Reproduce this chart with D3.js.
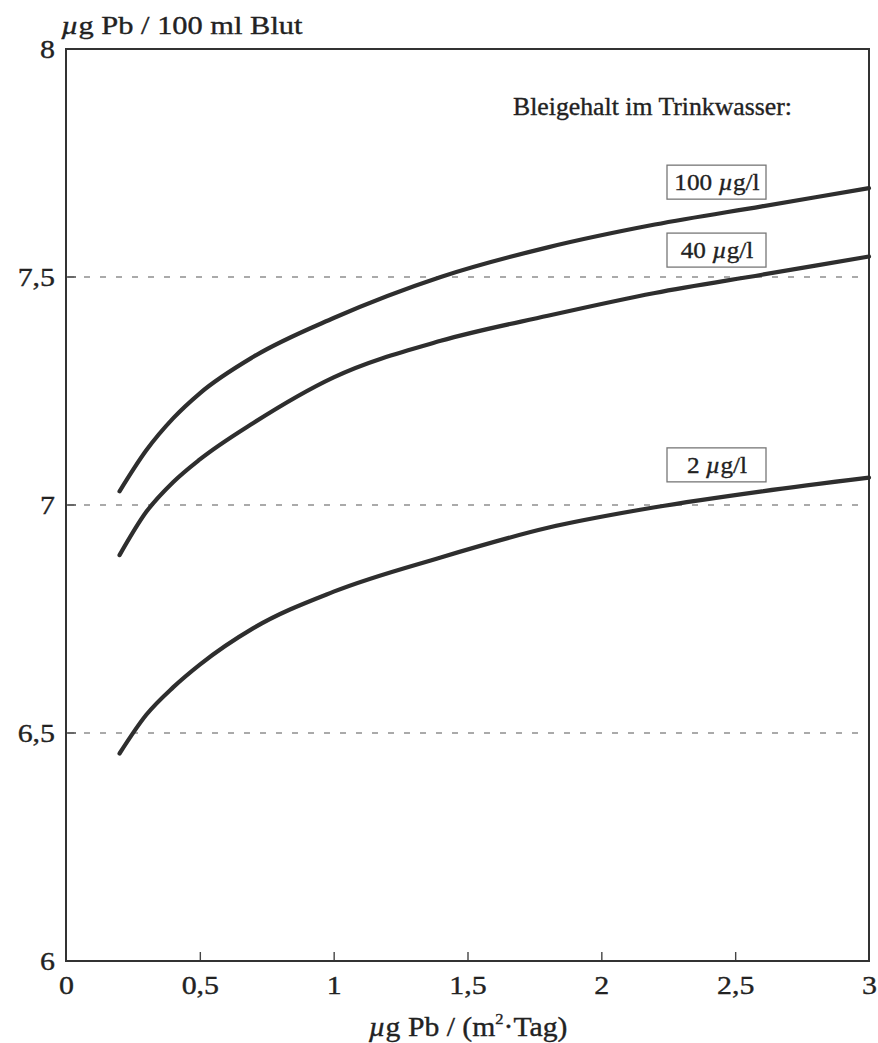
<!DOCTYPE html>
<html>
<head>
<meta charset="utf-8">
<script src="https://cdn.jsdelivr.net/npm/d3@7"></script>
<style>
  html, body { margin: 0; padding: 0; background: #fff; }
  svg text { font-family: "Liberation Serif", "Times New Roman", serif; fill: #222; stroke: #222; stroke-width: 0.35px; }
</style>
</head>
<body>
<svg id="chart" width="878" height="1043"></svg>
<script>
// Daily lead deposition (µg Pb per m² and day)
const deposition = [0.2, 0.3, 0.4, 0.5, 0.7, 1.0, 1.4, 1.8, 2.2, 2.6, 3.0];

// Blood lead (µg Pb / 100 ml) for three drinking-water lead levels
const blood100 = [7.03, 7.12, 7.19, 7.245, 7.325, 7.41, 7.50, 7.565, 7.615, 7.655, 7.695];
const blood40  = [6.89, 6.985, 7.05, 7.10, 7.18, 7.28, 7.36, 7.415, 7.465, 7.505, 7.545];
const blood2   = [6.455, 6.54, 6.60, 6.65, 6.73, 6.81, 6.885, 6.95, 6.995, 7.03, 7.06];

const seriesLabels = ["100 µg/l", "40 µg/l", "2 µg/l"];
const xTicks = [0, 0.5, 1, 1.5, 2, 2.5, 3];
const yTicks = [6, 6.5, 7, 7.5, 8];
const gridValues = [6.5, 7, 7.5];

const width = 878, height = 1043;
const margin = { top: 49, right: 9, bottom: 82, left: 66 };
const innerW = width - margin.left - margin.right;
const innerH = height - margin.top - margin.bottom;

const fmt = v => String(v).replace(".", ",");

// the typeface used here runs a little wider than Liberation Serif
function widen(sel, k) {
  sel.each(function() {
    const len = this.getComputedTextLength();
    d3.select(this).attr("textLength", len * k).attr("lengthAdjust", "spacingAndGlyphs");
  });
}

const svg = d3.select("#chart");
const g = svg.append("g").attr("transform", `translate(${margin.left},${margin.top})`);

const x = d3.scaleLinear().domain([0, 3]).range([0, innerW]);
const y = d3.scaleLinear().domain([6, 8]).range([innerH, 0]);

// dashed reference lines
g.selectAll(".grid").data(gridValues).enter().append("line")
  .attr("x1", 2).attr("x2", innerW - 6)
  .attr("y1", d => y(d)).attr("y2", d => y(d))
  .attr("stroke", "#8f8f8f").attr("stroke-width", 1.3)
  .attr("stroke-dasharray", "6,10");

// short dark marks at the left end of each reference line
g.selectAll(".ymark").data(gridValues).enter().append("line")
  .attr("x1", 0).attr("x2", 10)
  .attr("y1", d => y(d)).attr("y2", d => y(d))
  .attr("stroke", "#555").attr("stroke-width", 1.6);

// x axis with inward ticks
const xAxis = d3.axisBottom(x).tickValues(xTicks).tickSize(-9).tickPadding(13).tickFormat(fmt);
const xg = g.append("g").attr("transform", `translate(0,${innerH})`).call(xAxis);
xg.select(".domain").remove();
xg.selectAll(".tick line").attr("stroke", "#444").attr("stroke-width", 1.4)
  .filter(d => d === 0 || d === 3).remove();
xg.selectAll(".tick text").attr("font-size", 26).attr("fill", "#222")
  .attr("font-family", "Liberation Serif, serif").attr("dy", "0.75em");
widen(xg.selectAll(".tick text"), 1.15);

// y axis labels
const yAxis = d3.axisLeft(y).tickValues(yTicks).tickSize(0).tickPadding(11).tickFormat(fmt);
const yg = g.append("g").call(yAxis);
yg.select(".domain").remove();
yg.selectAll(".tick text").attr("font-size", 26).attr("fill", "#222")
  .attr("font-family", "Liberation Serif, serif");
widen(yg.selectAll(".tick text"), 1.15);

// plot frame
g.append("rect").attr("x", 0).attr("y", 0).attr("width", innerW).attr("height", innerH)
  .attr("fill", "none").attr("stroke", "#333").attr("stroke-width", 2);

// curves
const line = d3.line().x((d, i) => x(deposition[i])).y(d => y(d)).curve(d3.curveMonotoneX);
[blood100, blood40, blood2].forEach(s => {
  g.append("path").datum(s).attr("d", line)
    .attr("fill", "none").attr("stroke", "#2e2e2e").attr("stroke-width", 4.2)
    .attr("stroke-linecap", "round");
});

// legend heading
const head = g.append("text").attr("x", 447).attr("y", 66)
  .attr("font-size", 25).text("Bleigehalt im Trinkwasser:");
widen(head, 1.03);

// series labels in boxes
const boxes = [
  { label: seriesLabels[0], v: 7.708 },
  { label: seriesLabels[1], v: 7.559 },
  { label: seriesLabels[2], v: 7.088 }
];
const lg = g.selectAll(".lbl").data(boxes).enter().append("g");
lg.append("rect")
  .attr("x", 601).attr("y", d => y(d.v) - 17).attr("width", 99).attr("height", 34)
  .attr("fill", "#fff").attr("stroke", "#777").attr("stroke-width", 1.3);
const lt = lg.append("text")
  .attr("x", 651).attr("y", d => y(d.v) + 8)
  .attr("text-anchor", "middle").attr("font-size", 24);
lt.each(function(d) {
  const t = d3.select(this);
  const parts = d.label.split("µ");
  t.append("tspan").text(parts[0]);
  t.append("tspan").attr("font-style", "italic").text("µ");
  t.append("tspan").text(parts[1]);
});
widen(lt, 1.05);

// y axis title
const yt = svg.append("text").attr("x", 61).attr("y", 34).attr("font-size", 26);
yt.append("tspan").attr("font-style", "italic").text("µ");
yt.append("tspan").text("g Pb / 100 ml Blut");
widen(yt, 1.17);

// x axis title
const xt = svg.append("text").attr("x", 468).attr("y", 1036)
  .attr("text-anchor", "middle").attr("font-size", 27);
xt.append("tspan").attr("font-style", "italic").text("µ");
xt.append("tspan").text("g Pb / (m");
xt.append("tspan").attr("font-size", 15).attr("dy", -12).text("2");
xt.append("tspan").attr("dy", 12).text("·Tag)");
widen(xt, 1.1);
</script>
</body>
</html>
